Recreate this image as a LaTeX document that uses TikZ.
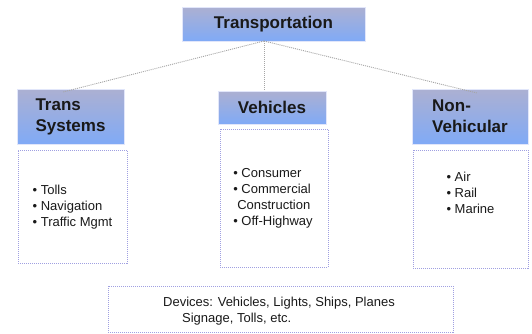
\documentclass[tikz,border=0pt]{standalone}
\usepackage{fontspec}
\setmainfont{Liberation Sans}
\begin{document}
\begin{tikzpicture}[x=1pt,y=-1pt,
  hdr/.style={shading=axis, top color=hdrtop, bottom color=hdrbot, draw=hdredge, line width=0.6pt,
    inner sep=0pt, font=\fontsize{17}{21}\selectfont\bfseries, text=black!90, align=left},
  listbox/.style={draw=dotblue, line width=0.9pt, dash pattern=on 1pt off 1pt, inner sep=0pt},
  listtext/.style={font=\fontsize{13}{16}\selectfont, align=left, inner sep=0pt, text=black!90},
  conn/.style={draw=conngray, line width=0.9pt, dash pattern=on 1pt off 1pt}]
\definecolor{hdrtop}{RGB}{172,176,210}
\definecolor{hdrbot}{RGB}{128,170,246}
\definecolor{hdredge}{RGB}{225,230,250}
\definecolor{dotblue}{RGB}{160,160,225}
\definecolor{conngray}{RGB}{165,165,165}
\useasboundingbox (0,0) rectangle (532,333);

% header boxes
\node[hdr, minimum width=183pt, minimum height=34pt] (top) at (273.5,24) {Transportation};
\node[hdr, minimum width=107pt, minimum height=55pt] (ts) at (70.5,116.5) {Trans\\Systems};
\node[hdr, minimum width=108pt, minimum height=33pt] (veh) at (272,107.5) {Vehicles};
\node[hdr, minimum width=116pt, minimum height=55pt] (nv) at (470,116.5) {Non-\\Vehicular};

% connectors
\coordinate (hub) at (264,41);
\coordinate (tsend) at (63,92);
\coordinate (vehend) at (264,91);
\coordinate (nvend) at (477,93);
\draw[conn] (hub) -- (tsend);
\draw[conn] (hub) -- (vehend);
\draw[conn] (hub) -- (nvend);

% list boxes
\node[listbox, minimum width=109pt, minimum height=113pt] (tsl) at (72.5,206.5) {};
\node[listtext] (tslt) at (72.5,207) {• Tolls\\• Navigation\\• Traffic Mgmt};

\node[listbox, minimum width=108pt, minimum height=138pt] (vehl) at (274,198) {};
\node[listtext] (vehlt) at (273,198) {• Consumer\\• Commercial\\\hspace{4pt}Construction\\• Off-Highway};

\node[listbox, minimum width=115pt, minimum height=118pt] (nvl) at (470.5,209) {};
\node[listtext] (nvlt) at (470.5,193) {• Air\\• Rail\\• Marine};

% bottom box
\node[listbox, minimum width=345pt, minimum height=46pt] (dev) at (280.5,309) {};
\node[listtext] (devt) at (279,311) {Devices: Vehicles, Lights, Ships, Planes\\\hspace{19pt}Signage, Tolls, etc.};
\end{tikzpicture}
\end{document}
